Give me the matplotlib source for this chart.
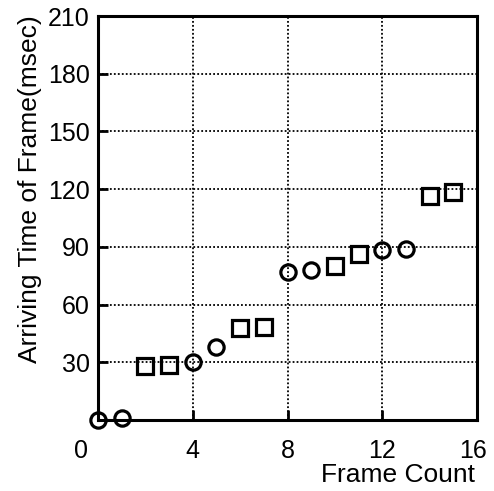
import matplotlib.pyplot as plt
from matplotlib.transforms import ScaledTranslation

plt.rcParams['font.family'] = ['Liberation Sans', 'DejaVu Sans']

# frames sent as circles / squares
circle_x = [0, 1, 4, 5, 8, 9, 12, 13]
circle_y = [0, 1, 30, 38, 77, 78, 88.5, 89]
square_x = [2, 3, 6, 7, 10, 11, 14, 15]
square_y = [28, 28.5, 48, 48.5, 80, 86.5, 116.5, 118.5]

x_ticks = [0, 4, 8, 12, 16]
y_ticks = [30, 60, 90, 120, 150, 180, 210]

fig = plt.figure(figsize=(4.94, 4.91), dpi=100)
ax = fig.add_axes([98/494, 1 - 420/491, 379/494, 404/491])

ax.plot(circle_x, circle_y, 'o', ms=11, mfc='none', mec='black', mew=2.3, clip_on=False, zorder=5)
ax.plot(square_x, square_y, 's', ms=11, mfc='none', mec='black', mew=2.3, clip_on=False, zorder=5)

ax.set_xlim(0, 16)
ax.set_ylim(0, 210)
ax.set_xticks(x_ticks)
ax.set_yticks(y_ticks)
ax.grid(True, color='black', linestyle=(0, (1, 1.2)), linewidth=1.3)
for s in ax.spines.values():
    s.set_linewidth(2.2)
ax.tick_params(direction='in', length=7, width=2, labelsize=18, colors='black')
ax.tick_params(axis='x', pad=14)
ax.tick_params(axis='y', pad=6)

# the origin label sits a little left of the axis
lbls = ax.get_xticklabels()
lbls[0].set_transform(lbls[0].get_transform() + ScaledTranslation(-17/100, 0, fig.dpi_scale_trans))
lbls[-1].set_transform(lbls[-1].get_transform() + ScaledTranslation(-4/100, 0, fig.dpi_scale_trans))

fig.text(30/494, 1 - 15/491, 'Arriving Time of Frame(msec)', rotation=90,
         ha='center', va='top', fontsize=19)
fig.text(475/494, 1 - 482/491, 'Frame Count', ha='right', va='baseline', fontsize=19)

fig.savefig('out.png', dpi=100)
